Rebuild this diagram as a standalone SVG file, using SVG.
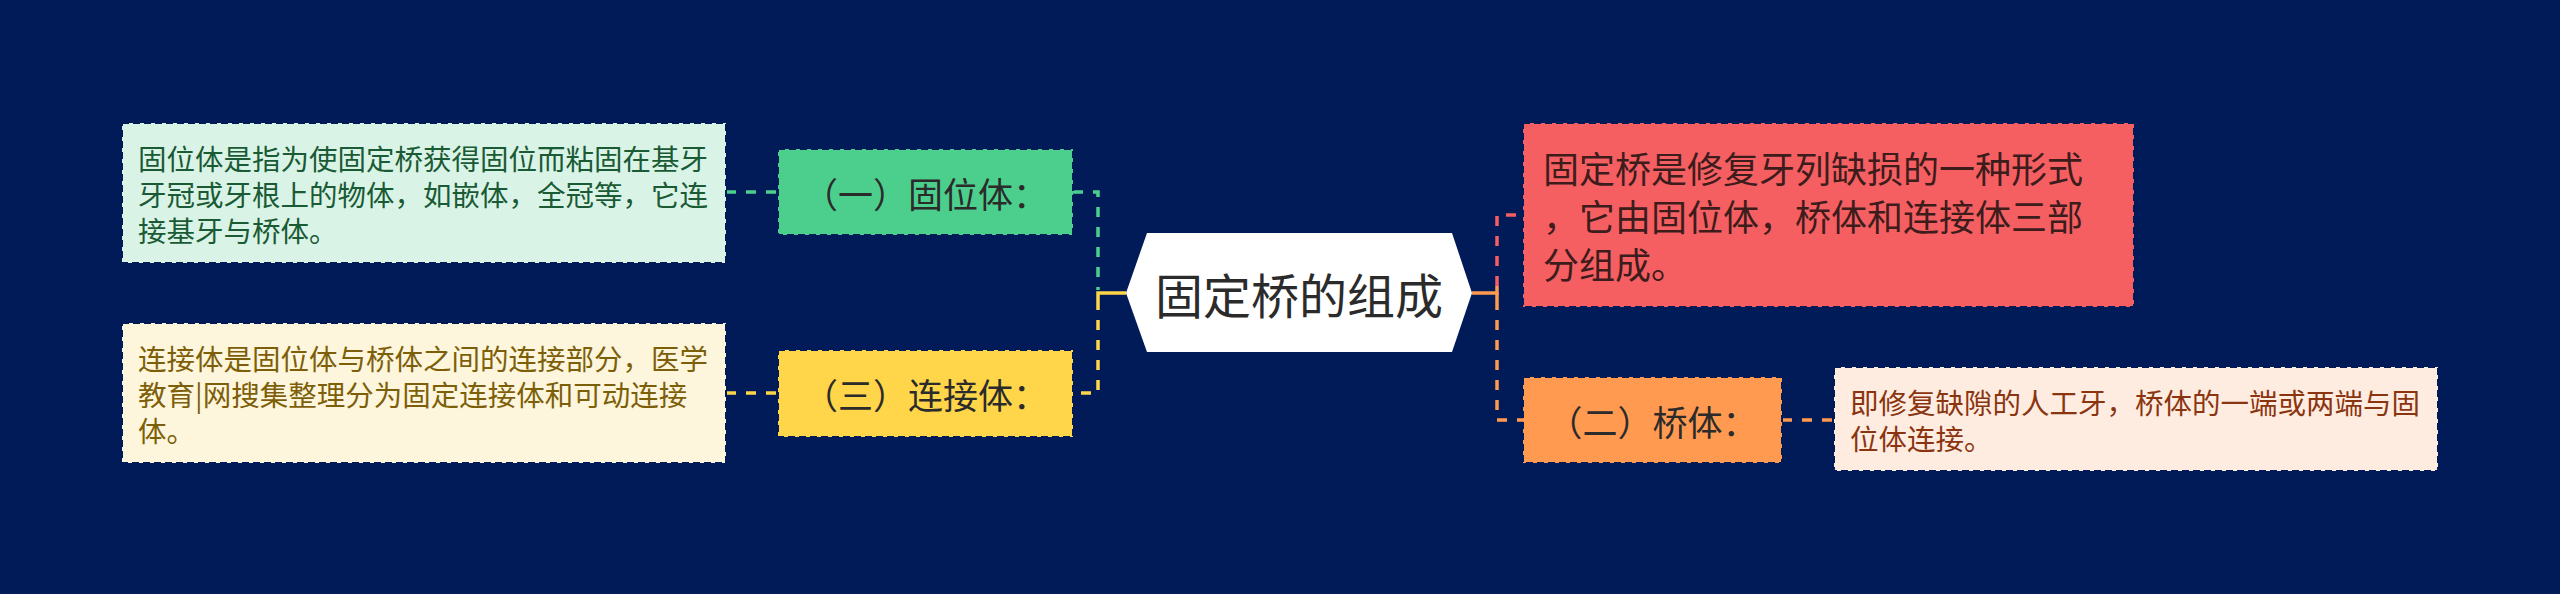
<svg xmlns="http://www.w3.org/2000/svg" width="2560" height="594" viewBox="0 0 2560 594">
<style>
text{font-family:"Noto Sans CJK SC","Noto Sans",sans-serif;dominant-baseline:central}
.box{stroke:#001b57;stroke-width:2;stroke-dasharray:7 4}
.d{font-size:28.5px}
.n{font-size:35px;fill:#2b2b2b;text-anchor:middle}
.c{fill:none;stroke-width:3.5;stroke-dasharray:10 10}
.s{fill:none;stroke-width:3.5}
</style>
<rect width="2560" height="594" fill="#001b57"/>
<g id="connectors">
<path class="c" d="M726 192H778" stroke="#4ccf8d"/>
<path class="c" d="M1073 192H1098V290" stroke="#4ccf8d"/>
<path class="c" d="M726 393H778" stroke="#ffd54a"/>
<path class="c" d="M1098 300V393H1073" stroke="#ffd54a"/>
<path class="s" d="M1126 293H1098V300" stroke="#ffd54a"/>
<path class="c" d="M1497 286V215H1523" stroke="#f65f62"/>
<path class="s" d="M1472 293H1497V286" stroke="#ff9a50"/>
<path class="c" d="M1497 300V420H1523" stroke="#ff9a50"/>
<path class="s" d="M1497 293V300" stroke="#ff9a50"/>
<path class="c" d="M1782 420H1834" stroke="#ff9a50"/>
</g>
<g id="center">
<polygon points="1126,293 1147,233 1452,233 1472,293 1452,352 1147,352" fill="#ffffff"/>
<text x="1299" y="293" font-size="48" fill="#2b2b2b" text-anchor="middle">固定桥的组成</text>
</g>
<g id="node-guweiti">
<rect class="box" x="778" y="149" width="295" height="86" fill="#4ccf8d"/>
<text class="n" x="925.5" y="192">（一）固位体：</text>
</g>
<g id="desc-guweiti">
<rect class="box" x="122" y="123" width="604" height="140" fill="#d9f4e6"/>
<text class="d" fill="#1a5a35"><tspan x="138" y="157">固位体是指为使固定桥获得固位而粘固在基牙</tspan><tspan x="138" y="193">牙冠或牙根上的物体，如嵌体，全冠等，它连</tspan><tspan x="138" y="229">接基牙与桥体。</tspan></text>
</g>
<g id="node-lianjieti">
<rect class="box" x="778" y="350" width="295" height="87" fill="#ffd54a"/>
<text class="n" x="925.5" y="393">（三）连接体：</text>
</g>
<g id="desc-lianjieti">
<rect class="box" x="122" y="323" width="604" height="140" fill="#fdf6dc"/>
<text class="d" fill="#7d5f0a"><tspan x="138" y="357">连接体是固位体与桥体之间的连接部分，医学</tspan><tspan x="138" y="393">教育|网搜集整理分为固定连接体和可动连接</tspan><tspan x="138" y="429">体。</tspan></text>
</g>
<g id="node-summary">
<rect class="box" x="1523" y="123" width="611" height="184" fill="#f65f62"/>
<text font-size="36" fill="#3d1c1c"><tspan x="1543" y="167">固定桥是修复牙列缺损的一种形式</tspan><tspan x="1543" y="215">，它由固位体，桥体和连接体三部</tspan><tspan x="1543" y="263">分组成。</tspan></text>
</g>
<g id="node-qiaoti">
<rect class="box" x="1523" y="377" width="259" height="86" fill="#ff9a50"/>
<text class="n" x="1652.5" y="420">（二）桥体：</text>
</g>
<g id="desc-qiaoti">
<rect class="box" x="1834" y="367" width="604" height="104" fill="#ffece0"/>
<text class="d" fill="#8a3510"><tspan x="1850" y="401">即修复缺隙的人工牙，桥体的一端或两端与固</tspan><tspan x="1850" y="437">位体连接。</tspan></text>
</g>
</svg>
